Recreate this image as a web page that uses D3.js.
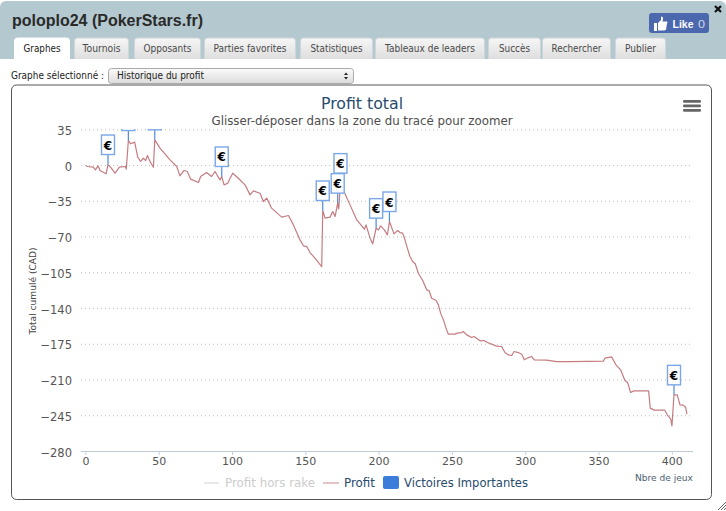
<!DOCTYPE html>
<html><head><meta charset="utf-8">
<style>html,body{margin:0;padding:0;background:#fff;overflow:hidden}svg{display:block}text{font-family:"DejaVu Sans",sans-serif}</style>
<script src="https://cdn.jsdelivr.net/npm/d3@7/dist/d3.min.js"></script>
</head><body><svg id="c" width="726" height="511"></svg>
<script>
const games=[0.5,1.3,5.4,6.8,8.6,10,14.1,15.4,17.7,20.2,23.2,27.2,27.9,29.3,30.9,33.6,35.7,37.7,39.5,41.1,42.3,44.1,46.4,47.3,50.9,57.7,62.3,64.5,67.3,69.5,71.8,77.1,78.6,82.7,86.1,88.4,91.8,93,94.6,97.1,98.7,100.5,104.3,108.9,112.3,114.6,119.1,121.4,123.7,127,133.9,138.5,141.9,146.4,148.7,151,153.2,156.6,161.2,161.9,163.5,166.9,168.7,170.3,172.1,172.8,174,176.4,180.5,185.1,188.5,190.3,191.4,194.2,196,198.3,199.9,201.4,203.9,206,207.4,210.5,213,214.6,216.4,218,219.6,221.4,223.2,225,227.1,230.1,232.8,234.4,236.2,239.2,240.8,242.3,244.2,246.4,247.6,252.1,253.7,256.7,257.8,260.1,263.5,265.1,269.2,271.9,274.2,277.1,280.5,283.9,286.2,288.5,290.8,292.4,295.3,297.6,299.4,302.2,304.4,306.2,314.7,321.5,330.6,353.3,354.4,358.9,361.9,365.1,368,369.9,371.9,374.2,384.2,385.3,388,395.3,396.9,399.2,400.1,401.5,403.7,405.6,407.8,409.4,410.3];
const profit=[-0.5,-1.4,-2.1,-4.7,-0.8,-5.4,-8.6,0.5,-3.1,-8,-2.1,-1.4,-4,24,20.8,22.4,7.7,3.5,6.7,4.4,9.3,3.5,-2.1,24.7,16.5,5.1,-1.4,-10.6,-5.3,-6.3,-13.8,-17.1,-11.2,-7.3,-11.2,-6.3,-14.5,-11.2,-19.4,-17.8,-12.9,-8,-12.9,-19.4,-29.2,-25.3,-27.6,-35.7,-32.4,-42.2,-51,-49.4,-58.6,-73.3,-79.1,-79.8,-85.7,-91.2,-99.4,-44.5,-52,-51,-45.5,-50.4,-37.3,-43,-17.7,-26,-39,-53.7,-59.5,-62.8,-58.6,-71.6,-77.2,-61.8,-63.5,-59.5,-63.5,-68.4,-55.3,-67.4,-64.1,-66.1,-66.7,-73.2,-81.4,-89.6,-94.5,-96.7,-105.9,-113,-122.2,-122.9,-130.4,-132.6,-136.9,-145,-151.6,-161.4,-165.6,-165.6,-164.6,-164,-163,-166.3,-168.9,-167.9,-172.1,-171.8,-173.8,-175.4,-177.4,-177.7,-183.6,-185.9,-186.5,-182.6,-183.6,-185.2,-190.7,-188.5,-187.5,-190.7,-191,-192.4,-192.4,-192,-189.1,-187.8,-195.6,-200.5,-211,-213,-222.7,-221.1,-221.1,-238,-240,-240,-244.6,-248.5,-255.4,-225,-225,-234.8,-235.1,-237.1,-244];
const flagGames=[15.4,29.3,47.3,93,161.9,174,172.1,198.3,207.4,401.5];
const flagProfit=[0.5,24,24.7,-11.2,-44.5,-17.7,-37.3,-61.8,-55.3,-225];
const xTicks=[0,50,100,150,200,250,300,350,400];
const yTicks=[35,0,-35,-70,-105,-140,-175,-210,-245,-280];
const tabs=["Graphes","Tournois","Opposants","Parties favorites","Statistiques","Tableaux de leaders","Succès","Rechercher","Publier"];
const tabLeft=[14,74,134,204,300,375,488,542,615];
const tabRight=[70,129,201,296,373,485,541,611,666];
const tabTextW=[37,38,48,73,52,90,31,50,31];

const svg=d3.select("#c");
const defs=svg.append("defs");
const g1=defs.append("linearGradient").attr("id","tab").attr("x1",0).attr("y1",0).attr("x2",0).attr("y2",1);
g1.append("stop").attr("offset",0).attr("stop-color","#f6f6f6");
g1.append("stop").attr("offset",1).attr("stop-color","#dedede");
const g2=defs.append("linearGradient").attr("id","sel").attr("x1",0).attr("y1",0).attr("x2",0).attr("y2",1);
g2.append("stop").attr("offset",0).attr("stop-color","#fbfbfb");
g2.append("stop").attr("offset",1).attr("stop-color","#dcdcdc");
defs.append("clipPath").attr("id","plot").append("rect").attr("x",81).attr("y",129).attr("width",612).attr("height",322);

function txt(p,s,x,y,size,col,w,anchor,extra){
  const t=p.append("text").attr("x",x).attr("y",y).attr("font-size",size).attr("fill",col).attr("text-anchor",anchor||"start").text(s);
  if(w)t.attr("textLength",w).attr("lengthAdjust","spacingAndGlyphs");
  if(extra)extra(t);
  return t;
}
// header
svg.append("path").attr("d","M0 59V7a6 6 0 0 1 6-6H720a6 6 0 0 1 6 6V59Z").attr("fill","#b4c8d0");
txt(svg,"poloplo24 (PokerStars.fr)",12,26,16,"#2a2a2a",191,"start",t=>t.style("font-family","'Liberation Sans'").attr("font-weight","bold"));
tabs.forEach((n,i)=>{
  const l=tabLeft[i],r=tabRight[i];
  svg.append("path").attr("d",`M${l+.5} 59V41a3 3 0 0 1 3-3H${r-3.5}a3 3 0 0 1 3 3V59`)
    .attr("fill",i==0?"#fff":"url(#tab)").attr("stroke",i==0?"#fff":"#cfd6d9");
  txt(svg,n,(l+r)/2,52,10,i==0?"#222":"#4a4a4a",tabTextW[i],"middle");
});
// like button
svg.append("rect").attr("x",649).attr("y",13).attr("width",60).attr("height",20).attr("rx",3).attr("fill","#4b67ad");
svg.append("path").attr("d","M654 23h3v8h-3ZM658 23l3-3v-3.500q2.500 0 2 3l-.5 2h4.500q1 1 0 2l-1 6q-.5 1-2 1h-6Z").attr("fill","#fff");
txt(svg,"Like",672.500,27.500,11.500,"#fff",21,"start",t=>t.attr("font-weight","bold").style("font-family","'Liberation Sans'"));
txt(svg,"0",698,27.500,11.500,"#d0d8ea",7,"start",t=>t.style("font-family","'Liberation Sans'"));
svg.append("path").attr("d","M715 6l6 6M721 6l-6 6").attr("stroke","#111").attr("stroke-width",2.200);
// select
txt(svg,"Graphe sélectionné :",11,79,10,"#222",93);
svg.append("rect").attr("x",108.500).attr("y",68.500).attr("width",245).attr("height",15).attr("rx",3).attr("fill","url(#sel)").attr("stroke","#aaa");
txt(svg,"Historique du profit",117,79,10,"#222",87);
svg.append("path").attr("d","M344 75l2-2.500 2 2.500ZM344 77l2 2.500 2-2.500Z").attr("fill","#222");
// chart frame
svg.append("rect").attr("x",11.500).attr("y",85).attr("width",700).attr("height",414.500).attr("rx",5).attr("fill","#fff").attr("stroke","#555");
txt(svg,"Profit total",362,109,16,"#274b6d",82,"middle");
txt(svg,"Glisser-déposer dans la zone du tracé pour zoomer",362,124.500,11.500,"#4d4d4d",301,"middle");
[100,104.500,109].forEach(y=>svg.append("rect").attr("x",683).attr("y",y).attr("width",18).attr("height",2.800).attr("rx",1.200).attr("fill","#666"));

const x=d3.scaleLinear().domain([0,400]).range([85.4,671.8]);
const y=d3.scaleLinear().domain([-280,35]).range([451,129.3]);

// grid and y axis
const ya=svg.append("g").attr("transform","translate(81,0)").call(d3.axisLeft(y).tickValues(yTicks).tickSize(-612).tickPadding(9).tickFormat(d=>String(d).replace("-","−")));
ya.select(".domain").remove();
ya.selectAll(".tick line").attr("stroke","#bdbdbd").attr("stroke-dasharray","1,3").filter(d=>d===-280).remove();
ya.selectAll(".tick text").attr("font-size",11.500).attr("fill","#555").attr("dy","0.45em").style("font-family","'DejaVu Sans'");
// x axis
const xa=svg.append("g").attr("transform","translate(0,451)").call(d3.axisBottom(x).tickValues(xTicks).tickSize(4).tickPadding(2.500).tickSizeOuter(0));
xa.select(".domain").attr("stroke","#c0c8d0").attr("d","M81 0.5H693");
xa.selectAll(".tick line").attr("stroke","#c0d0e0");
xa.selectAll(".tick text").attr("font-size",11).attr("fill","#555").style("font-family","'DejaVu Sans'");

txt(svg,"Total cumulé (CAD)",0,0,9.500,"#444",87,"middle",t=>t.attr("transform","translate(36,291) rotate(-90)"));
txt(svg,"Nbre de jeux",693,481,9.500,"#4d6070",58,"end");

// profit line
const pts=games.map((g,i)=>[g,profit[i]]);
const line=d3.line().x(d=>x(d[0])).y(d=>y(d[1]));
const plot=svg.append("g").attr("clip-path","url(#plot)");
plot.append("path").datum(pts).attr("d",line).attr("fill","none").attr("stroke","#c47c80").attr("stroke-width",1.200).attr("stroke-linejoin","round");

// flags
flagGames.forEach((g,i)=>{
  const fx=x(g),fy=y(flagProfit[i]);
  const f=plot.append("g");
  f.append("line").attr("x1",fx).attr("x2",fx).attr("y1",fy-10).attr("y2",fy).attr("stroke","#4a8ae0").attr("stroke-width",1.200);
  f.append("rect").attr("x",fx-6.500).attr("y",fy-29.500).attr("width",13).attr("height",19.500).attr("fill","#fff").attr("stroke","#7ba7e8").attr("stroke-width",1.400);
  txt(f,"€",fx,fy-15,12,"#000",null,"middle",t=>t.attr("font-weight","bold"));
});

// legend
const lc="#274b6d";
svg.append("line").attr("x1",204).attr("x2",219).attr("y1",483).attr("y2",483).attr("stroke","#e2e2e2").attr("stroke-width",1.500);
txt(svg,"Profit hors rake",225,487,12,"#cccccc",90);
svg.append("line").attr("x1",323).attr("x2",339).attr("y1",483).attr("y2",483).attr("stroke","#dcb0b0").attr("stroke-width",1.500);
txt(svg,"Profit",344,487,12,lc,31);
svg.append("rect").attr("x",383).attr("y",476).attr("width",16).attr("height",13).attr("rx",2).attr("fill","#3c7dd9");
txt(svg,"Victoires Importantes",404,487,12,lc,124);
// resize grip
svg.append("path").attr("d","M718 510l8-8M721 510l5-5M724 510l2-2").attr("stroke","#666").attr("stroke-width",1);
</script></body></html>
